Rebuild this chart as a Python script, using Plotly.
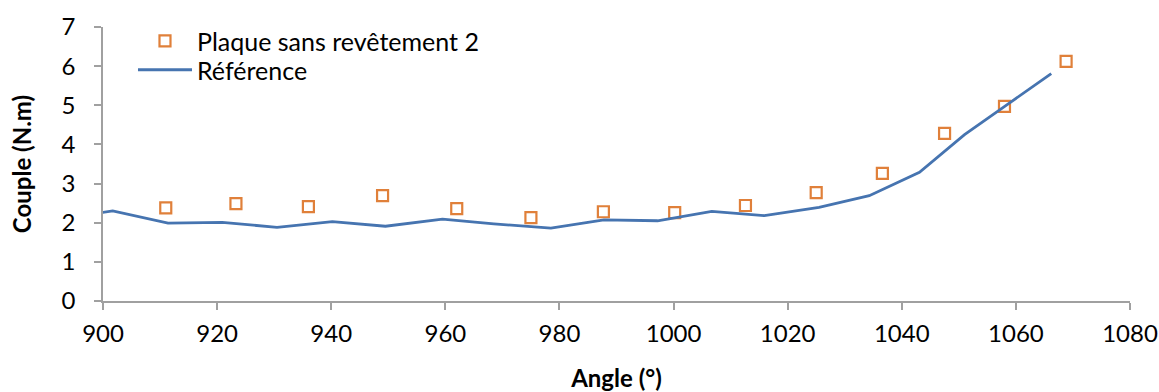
import plotly.graph_objects as go

# Référence (line)
ref_angle = [899.0, 901.7, 911.4, 920.9, 930.5, 940.2, 949.5, 959.5, 968.5, 978.5,
             987.8, 997.2, 1006.7, 1015.9, 1025.5, 1034.3, 1043.1, 1051.0, 1058.1, 1066.2]
ref_couple = [2.24, 2.30, 1.99, 2.01, 1.88, 2.03, 1.91, 2.09, 1.97, 1.86,
              2.07, 2.05, 2.29, 2.18, 2.39, 2.69, 3.29, 4.25, 4.98, 5.81]

# Plaque sans revêtement 2 (markers)
plaque_angle = [911.0, 923.3, 936.0, 949.0, 962.0, 975.0, 987.7, 1000.2, 1012.6,
                1025.0, 1036.6, 1047.5, 1058.0, 1068.8]
plaque_couple = [2.38, 2.49, 2.41, 2.69, 2.36, 2.13, 2.28, 2.26, 2.44,
                 2.77, 3.26, 4.28, 4.97, 6.12]

font = "Lato, 'Open Sans', sans-serif"

fig = go.Figure()
fig.add_trace(go.Scatter(
    x=plaque_angle, y=plaque_couple, mode="markers",
    name="Plaque sans revêtement 2", legend="legend",
    marker=dict(symbol="square-open", size=11, color="#E0803A",
                line=dict(width=2.2, color="#E0803A")),
))
fig.add_trace(go.Scatter(
    x=ref_angle, y=ref_couple, mode="lines", name="Référence",
    legend="legend2",
    line=dict(color="#4674B0", width=2.8),
))

axis_common = dict(
    showgrid=False, zeroline=False, showline=True, linecolor="#A0A0A0",
    linewidth=1.5, ticks="outside", ticklen=7, tickcolor="#A0A0A0",
    tickwidth=1.5, automargin=False,
    tickfont=dict(family=font, size=24, color="#000"),
)

legend_common = dict(xanchor="left", yanchor="top", bgcolor="rgba(0,0,0,0)",
                     font=dict(size=25), itemwidth=54, borderwidth=0)

fig.update_layout(
    width=1159, height=392,
    margin=dict(l=103, r=29, t=27, b=91),
    paper_bgcolor="white", plot_bgcolor="white",
    font=dict(family=font, color="#000"),
    xaxis=dict(range=[900, 1080], dtick=20, ticklabelstandoff=3,
               title=dict(text="<b>Angle (°)</b>", font=dict(size=24), standoff=27),
               **axis_common),
    yaxis=dict(range=[0, 7], dtick=1, ticklabelstandoff=14,
               title=dict(text="<b>Couple (N.m)</b>", font=dict(size=24), standoff=23),
               **axis_common),
    legend=dict(x=0.0292, y=1.0325, **legend_common),
    legend2=dict(x=0.0292, y=0.927, **legend_common),
    showlegend=True,
)

# drop the default 8px page margin so the figure fills the window exactly
fig.write_html("out.html", config={"displayModeBar": False},
               post_script="document.body.style.margin='0';"
                           "document.body.style.overflow='hidden';")
